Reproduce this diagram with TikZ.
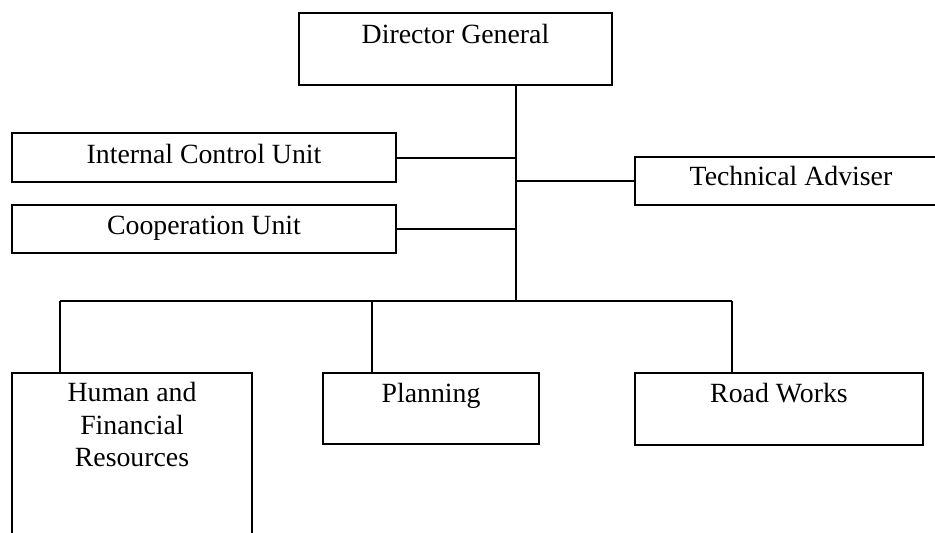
\documentclass[tikz,border=0pt]{standalone}
\usepackage{fontspec}
\setmainfont{Liberation Serif}
\usetikzlibrary{fit}
\begin{document}
\begin{tikzpicture}[x=1pt,y=-1pt,
  unitbox/.style={draw, line width=2pt, inner sep=0pt},
  caption/.style={anchor=base, inner sep=0pt, align=center,
    font=\fontsize{27.8}{32.5}\selectfont},
  link/.style={line width=2pt}]
\useasboundingbox (0,0) rectangle (935,533);
\clip (0,0) rectangle (935,533);

% boxes (the bottom and right ones run past the page edge)
\node[unitbox, fit={(299,13) (612,85)}]      (dg)  {};
\node[unitbox, fit={(12,133.3) (396,181.7)}] (icu) {};
\node[unitbox, fit={(12,205) (396,253.3)}]   (cu)  {};
\node[unitbox, fit={(635,156.7) (947,205)}]  (ta)  {};
\node[unitbox, fit={(12,372.7) (252,560)}]   (hfr) {};
\node[unitbox, fit={(323.3,372.7) (539.3,444.3)}] (pl) {};
\node[unitbox, fit={(635,372.7) (923,445)}]  (rw)  {};

% captions (base of a multi-line caption is its last line)
\node[caption] (dgt)  at (455.5,43.3) {Director General};
\node[caption] (icut) at (204,163.3)  {Internal Control Unit};
\node[caption] (cut)  at (204,234)    {Cooperation Unit};
\node[caption] (tat)  at (791,185.7)  {Technical Adviser};
\node[caption] (hfrt) at (132,466.7)  {Human and\\Financial\\Resources};
\node[caption] (plt)  at (431,402)    {Planning};
\node[caption] (rwt)  at (779,402.7)  {Road Works};

% connector points
\coordinate (bus) at (516,301);
\coordinate (d1) at (60,301);
\coordinate (d2) at (372,301);
\coordinate (d3) at (732,301);

% trunk and side branches
\draw[link] (dg.south -| bus) -- (bus);
\draw[link] (icu.east) -- (icu.east -| bus);
\draw[link] (cu.east) -- (cu.east -| bus);
\draw[link] (ta.west) -- (ta.west -| bus);

% lower bus and drops
\draw[link] (d1) -- (d3);
\draw[link] (d1) -- (d1 |- hfr.north);
\draw[link] (d2) -- (d2 |- pl.north);
\draw[link] (d3) -- (d3 |- rw.north);
\end{tikzpicture}
\end{document}
